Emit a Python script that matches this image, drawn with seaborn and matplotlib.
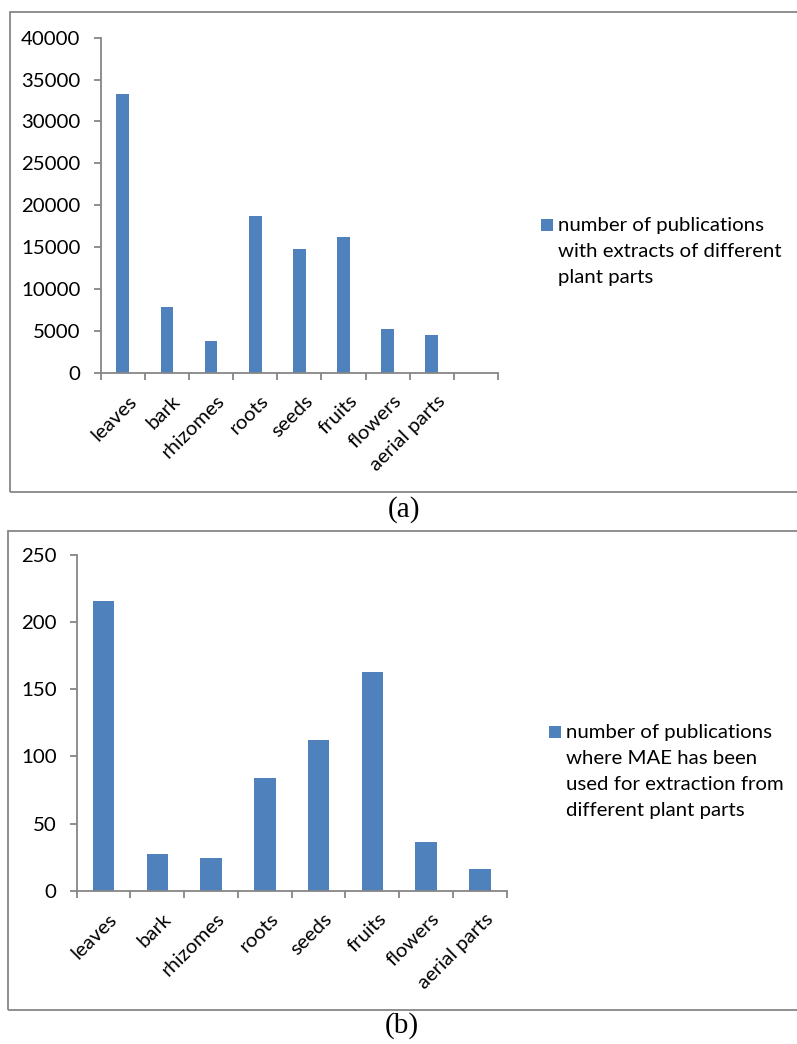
import matplotlib
matplotlib.use("Agg")
import matplotlib.pyplot as plt
import matplotlib.transforms as mtransforms
from matplotlib.patches import Rectangle
import seaborn as sns
import pandas as pd
import numpy as np

# ---- data ----
categories_a = ["leaves", "bark", "rhizomes", "roots", "seeds", "fruits", "flowers", "aerial parts", ""]
values_a = [33300, 7800, 3800, 18700, 14800, 16200, 5250, 4500, 0]
legend_a = "number of publications\nwith extracts of different\nplant parts"
yticks_a = [0, 5000, 10000, 15000, 20000, 25000, 30000, 35000, 40000]

categories_b = ["leaves", "bark", "rhizomes", "roots", "seeds", "fruits", "flowers", "aerial parts"]
values_b = [216, 27, 24, 84, 112, 163, 36, 16]
legend_b = "number of publications\nwhere MAE has been\nused for extraction from\ndifferent plant parts"
yticks_b = [0, 50, 100, 150, 200, 250]

captions = ["(a)", "(b)"]

BAR = "#4F81BD"
AXC = "#868686"
FONT = "Lato"
FS = 14.7

sns.set_theme(style="white")
plt.rcParams["font.family"] = [FONT, "DejaVu Sans"]

W, H = 797, 1044
fig = plt.figure(figsize=(W / 100, H / 100), dpi=100)


def px_rect(left, top, right, bottom):
    return [left / W, 1 - bottom / H, (right - left) / W, (bottom - top) / H]


def draw_panel(rect, cats, vals, yticks, width, leg_text, leg_xy, box, cap_xy, caption):
    ax = fig.add_axes(rect)
    df = pd.DataFrame({"cat": cats, "val": vals})
    sns.barplot(data=df, x="cat", y="val", order=cats, color=BAR, width=width,
                saturation=1, ax=ax, edgecolor="none")
    n = len(cats)
    ax.set_xlim(-0.5, n - 0.5)
    ax.set_ylim(yticks[0], yticks[-1])
    ax.set_yticks(yticks)
    ax.set_yticklabels([str(t) for t in yticks], fontsize=FS, color="black")
    ax.set_xlabel("")
    ax.set_ylabel("")
    for s in ["top", "right"]:
        ax.spines[s].set_visible(False)
    for s in ["left", "bottom"]:
        ax.spines[s].set_color(AXC)
        ax.spines[s].set_linewidth(1.3)
    ax.tick_params(axis="y", direction="out", length=5, width=1.3, color=AXC, pad=9.5, left=True)
    # category labels at centers, boundary ticks as minor ticks
    ax.set_xticks(np.arange(n))
    ax.set_xticklabels(cats, fontsize=FS, rotation=45, ha="right", va="top",
                       rotation_mode="anchor", color="black")
    ax.set_xticks(np.arange(n + 1) - 0.5, minor=True)
    ax.tick_params(axis="x", which="major", length=0, pad=14)
    ax.tick_params(axis="x", which="minor", direction="out", length=5, width=1.3,
                   color=AXC, bottom=True)
    off = mtransforms.ScaledTranslation(5 / 100, 0, fig.dpi_scale_trans)
    for lab in ax.get_xticklabels():
        lab.set_transform(lab.get_transform() + off)
    # legend (manual, Excel style: swatch beside first line)
    lx, ly = leg_xy
    fig.patches.append(Rectangle((lx / W, 1 - (ly + 6) / H), 12 / W, 12 / H,
                                 transform=fig.transFigure, facecolor=BAR,
                                 edgecolor="none"))
    fig.text((lx + 17) / W, 1 - (ly - 8) / H, leg_text, fontsize=FS, va="top",
             ha="left", linespacing=1.65, color="black")
    # panel border
    bl, bt, bb = box
    fig.patches.append(Rectangle((bl / W, 1 - bb / H), 1.2, (bb - bt) / H,
                                 transform=fig.transFigure, facecolor="none",
                                 edgecolor=AXC, linewidth=1.3, clip_on=False))
    cx, cy = cap_xy
    fig.text(cx / W, 1 - cy / H, caption, fontsize=21, ha="center", va="center",
             family="Liberation Serif", color="black")
    return ax


draw_panel(px_rect(100.7, 37.7, 498, 372.7), categories_a, values_a, yticks_a, 0.29,
           legend_a, (541, 225), (10, 12, 492), (404, 510), captions[0])
draw_panel(px_rect(76.7, 555, 506.7, 890.7), categories_b, values_b, yticks_b, 0.40,
           legend_b, (549, 732), (8.3, 530.7, 1010), (402, 1026), captions[1])

fig.savefig("out.png", dpi=100)
